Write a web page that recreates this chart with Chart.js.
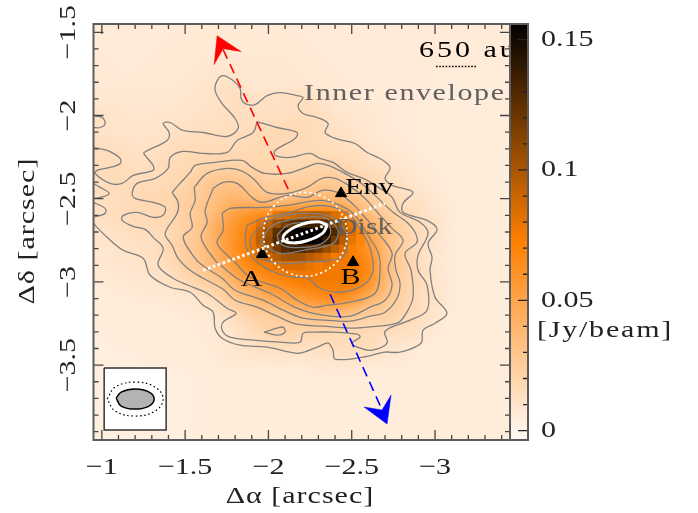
<!DOCTYPE html>
<html><head><meta charset="utf-8">
<style>html,body{margin:0;padding:0;background:#fff}canvas{display:block}</style>
<script src="https://cdn.jsdelivr.net/npm/chart.js@4/dist/chart.umd.min.js"></script>
</head><body><canvas id="c" width="698" height="513"></canvas>
<script>
// ---- axes
const xMajor=[-1,-1.5,-2,-2.5,-3];
const xLabels=['\u22121','\u22121.5','\u22122','\u22122.5','\u22123'];
const yMajor=[-1.5,-2,-2.5,-3,-3.5];
const yLabels=['\u22121.5','\u22122','\u22122.5','\u22123','\u22123.5'];
const xMinor=[-1,-1.1,-1.2,-1.3,-1.4,-1.5,-1.6,-1.7,-1.8,-1.9,-2,-2.1,-2.2,-2.3,-2.4,-2.5,-2.6,-2.7,-2.8,-2.9,-3,-3.1,-3.2,-3.3,-3.4];
const yMinor=[-1.5,-1.6,-1.7,-1.8,-1.9,-2,-2.1,-2.2,-2.3,-2.4,-2.5,-2.6,-2.7,-2.8,-2.9,-3,-3.1,-3.2,-3.3,-3.4,-3.5,-3.6,-3.7,-3.8,-3.9];
const cMajor=[0,0.05,0.1,0.15];
const cLabels=['0','0.05','0.1','0.15'];
const cMinor=[0,0.01,0.02,0.03,0.04,0.05,0.06,0.07,0.08,0.09,0.1,0.11,0.12,0.13,0.14,0.15];
const cStops=[-0.0036,0,0.0725,0.156];
const cColors=[[255,248,242],[255,245,236],[255,128,0],[0,0,0]];
// ---- map, mJy/beam, rows dec -1.5..-3.9, cols ra -1.0..-3.4 step 0.1
const fluxRows=[
[6,6,6,6,6,7,7,7,7,7,7,7,6,6,6,6,6,6,6,6,6,6,6,6,6],
[6,6,6,6,7,7,7,7,7,7,7,7,7,6,6,6,6,6,6,6,6,6,6,6,6],
[7,6,6,7,7,7,8,8,8,8,8,8,7,7,6,6,6,6,6,6,6,6,6,6,6],
[7,7,7,7,7,8,9,11,11,8,8,8,8,7,7,6,6,6,6,6,6,5,5,5,5],
[8,8,8,8,8,9,10,12,14,12,12,13,14,11,8,7,6,6,6,6,5,5,5,5,5],
[12,10,9,9,10,10,11,12,14,13,13,13,14,14,10,9,8,7,6,6,5,5,5,5,5],
[11,10,10,10,12,13,14,14,14,15,17,18,17,14,13,10,8,7,6,6,5,5,5,5,5],
[14,13,11,12,14,16,16,16,17,17,18,16,15,15,14,13,11,8,7,6,5,5,5,5,5],
[15,15,13,14,16,17,20,21,21,20,18,17,18,20,20,17,14,12,9,7,6,5,5,5,5],
[14,16,15,15,17,20,25,29,30,27,23,23,24,26,26,23,19,15,12,8,7,5,5,5,5],
[13,14,17,18,19,23,28,34,40,36,32,33,36,39,38,32,25,19,14,12,8,6,5,5,5],
[13,15,16,17,18,23,29,40,54,62,68,70,74,76,74,50,36,26,18,14,10,6,5,5,5],
[11,12,14,15,17,22,30,48,60,74,92,110,140,140,105,70,50,34,23,16,12,6,5,5,5],
[9,10,12,13,18,24,32,46,62,76,92,110,115,108,90,72,60,36,23,14,9,6,5,5,5],
[8,9,10,12,15,22,30,40,56,70,76,82,82,80,76,76,66,38,24,16,9,6,5,5,5],
[6,7,8,9,12,16,22,28,42,52,62,68,74,76,76,76,62,38,22,16,10,6,5,5,5],
[5,6,6,7,7,8,11,18,28,36,44,50,56,62,64,58,42,30,21,15,11,6,5,5,5],
[5,5,5,5,6,6,7,10,16,21,25,28,32,34,34,28,23,22,18,14,10,6,5,5,5],
[5,5,5,5,5,6,6,8,10,16,20,21,20,20,18,17,17,14,14,11,7,5,5,5,5],
[4,5,5,5,5,5,6,7,10,11,13,14,13,13,14,15,15,10,9,6,5,5,5,5,5],
[4,4,4,5,5,5,5,6,7,7,7,7,7,8,8,8,7,6,6,5,5,5,5,5,5],
[4,4,4,4,4,4,5,5,5,5,5,5,5,5,5,5,5,5,5,5,5,5,5,5,5],
[4,4,4,4,4,4,5,5,5,5,5,5,5,5,5,5,5,5,5,5,5,5,5,5,5],
[4,4,4,4,4,4,5,5,5,5,5,5,5,5,5,5,5,5,5,5,5,5,5,5,5],
[4,4,4,4,4,4,5,5,5,5,5,5,5,5,5,5,5,5,5,5,5,5,5,5,5]];
// core cells, 0.05 arcsec pixels (null: no cell)
const coreRa=[-1.95,-2,-2.05,-2.1,-2.15,-2.2,-2.25,-2.3,-2.35,-2.4,-2.45,-2.5,-2.55];
const coreDec=[-2.6,-2.65,-2.7,-2.75,-2.8,-2.85,-2.9];
const coreRows=[
[null,null,80,84,88,92,96,96,92,84,78,null,null],
[82,92,104,116,124,130,136,136,128,112,94,80,null],
[92,104,126,144,154,156,156,156,152,130,104,84,72],
[94,108,130,148,156,156,156,154,140,118,96,80,70],
[88,100,116,128,134,134,126,118,106,94,84,74,null],
[80,88,96,102,104,102,96,90,84,76,null,null,null],
[null,76,80,84,84,84,80,76,null,null,null,null,null]];
// ---- contours [ra,dec]
const contour1=[[-.948,-2.192],[-1.032,-2.21],[-1.11,-2.258],[-1.11,-2.288],[-1.05,-2.312],[-.972,-2.33],[-.96,-2.348],[-1.05,-2.408],[-1.122,-2.408],[-1.188,-2.36],[-1.308,-2.33],[-1.308,-2.3],[-1.26,-2.24],[-1.254,-2.222],[-1.392,-2.15],[-1.404,-2.102],[-1.368,-2.048],[-1.41,-2.042],[-1.488,-2.09],[-1.608,-2.102],[-1.752,-2.126],[-1.818,-2.078],[-1.8,-2.018],[-1.722,-1.928],[-1.68,-1.85],[-1.692,-1.79],[-1.728,-1.76],[-1.788,-1.79],[-1.83,-1.838],[-1.836,-1.898],[-1.86,-1.928],[-1.92,-1.934],[-1.992,-1.88],[-2.07,-1.862],[-2.172,-1.88],[-2.208,-1.892],[-2.178,-1.94],[-2.208,-1.988],[-2.292,-2.012],[-2.358,-2.048],[-2.34,-2.102],[-2.388,-2.132],[-2.448,-2.15],[-2.52,-2.168],[-2.592,-2.222],[-2.67,-2.258],[-2.73,-2.312],[-2.7,-2.378],[-2.742,-2.42],[-2.808,-2.438],[-2.868,-2.462],[-2.808,-2.528],[-2.808,-2.582],[-2.952,-2.63],[-3.012,-2.684],[-2.958,-2.768],[-2.982,-2.852],[-2.97,-2.93],[-3,-3.092],[-3.072,-3.188],[-3,-3.248],[-2.928,-3.29],[-2.916,-3.368],[-2.79,-3.422],[-2.7,-3.422],[-2.568,-3.452],[-2.4,-3.464],[-2.388,-3.41],[-2.358,-3.368],[-2.292,-3.392],[-2.19,-3.428],[-2.13,-3.422],[-1.992,-3.392],[-1.83,-3.38],[-1.722,-3.338],[-1.68,-3.278],[-1.668,-3.182],[-1.608,-3.14],[-1.53,-3.062],[-1.41,-3.032],[-1.29,-2.96],[-1.248,-2.858],[-1.128,-2.81],[-1.032,-2.732],[-.96,-2.66],[-.948,-2.642]];
const contour2=[[-1.932,-2.036],[-2.052,-2.072],[-2.172,-2.102],[-2.16,-2.138],[-2.04,-2.21],[-2.04,-2.24],[-2.13,-2.252],[-2.25,-2.228],[-2.31,-2.258],[-2.388,-2.282],[-2.472,-2.342],[-2.568,-2.378],[-2.67,-2.438],[-2.742,-2.492],[-2.79,-2.582],[-2.91,-2.642],[-2.958,-2.708],[-2.898,-2.84],[-2.898,-2.93],[-2.952,-3.02],[-2.952,-3.17],[-2.85,-3.23],[-2.7,-3.296],[-2.712,-3.368],[-2.622,-3.41],[-2.55,-3.398],[-2.502,-3.368],[-2.55,-3.332],[-2.532,-3.314],[-2.388,-3.302],[-2.268,-3.302],[-2.208,-3.308],[-2.19,-3.362],[-2.07,-3.362],[-1.908,-3.35],[-1.77,-3.332],[-1.722,-3.29],[-1.728,-3.242],[-1.806,-3.188],[-1.752,-3.158],[-1.632,-3.068],[-1.518,-3.02],[-1.428,-2.978],[-1.338,-2.9],[-1.368,-2.798],[-1.308,-2.732],[-1.26,-2.684],[-1.188,-2.666],[-1.122,-2.63],[-1.128,-2.6],[-1.212,-2.582],[-1.308,-2.612],[-1.368,-2.6],[-1.38,-2.552],[-1.308,-2.522],[-1.2,-2.498],[-1.182,-2.468],[-1.212,-2.408],[-1.32,-2.378],[-1.398,-2.318],[-1.41,-2.252],[-1.488,-2.216],[-1.608,-2.228],[-1.752,-2.222],[-1.812,-2.15],[-1.908,-2.102],[-1.932,-2.036]];
const contour3=[[-1.422,-2.462],[-1.458,-2.42],[-1.53,-2.342],[-1.56,-2.3],[-1.68,-2.282],[-1.842,-2.27],[-1.902,-2.312],[-1.98,-2.348],[-2.112,-2.348],[-2.208,-2.318],[-2.292,-2.288],[-2.358,-2.3],[-2.448,-2.342],[-2.55,-2.402],[-2.64,-2.48],[-2.748,-2.582],[-2.832,-2.642],[-2.88,-2.702],[-2.892,-2.762],[-2.82,-2.828],[-2.856,-2.93],[-2.868,-3.092],[-2.82,-3.2],[-2.772,-3.248],[-2.592,-3.272],[-2.49,-3.278],[-2.328,-3.266],[-2.172,-3.254],[-2.052,-3.206],[-1.932,-3.152],[-1.8,-3.11],[-1.728,-3.044],[-1.608,-2.978],[-1.53,-2.93],[-1.458,-2.858],[-1.422,-2.78],[-1.38,-2.708],[-1.452,-2.588],[-1.458,-2.522],[-1.422,-2.462]];
const contour4=[[-1.554,-2.432],[-1.632,-2.348],[-1.752,-2.318],[-1.83,-2.33],[-1.908,-2.378],[-1.992,-2.462],[-2.112,-2.468],[-2.232,-2.432],[-2.322,-2.378],[-2.4,-2.378],[-2.49,-2.426],[-2.58,-2.498],[-2.67,-2.6],[-2.742,-2.678],[-2.808,-2.75],[-2.76,-2.84],[-2.766,-2.93],[-2.79,-3.008],[-2.772,-3.098],[-2.7,-3.182],[-2.61,-3.206],[-2.49,-3.236],[-2.34,-3.23],[-2.208,-3.218],[-2.088,-3.17],[-1.968,-3.11],[-1.8,-3.05],[-1.722,-2.978],[-1.62,-2.912],[-1.56,-2.858],[-1.488,-2.732],[-1.542,-2.672],[-1.53,-2.588],[-1.56,-2.51],[-1.554,-2.432]];
const contour5=[[-1.668,-2.438],[-1.728,-2.402],[-1.812,-2.408],[-1.908,-2.498],[-1.968,-2.522],[-2.112,-2.48],[-2.232,-2.492],[-2.322,-2.45],[-2.412,-2.462],[-2.502,-2.528],[-2.58,-2.612],[-2.67,-2.72],[-2.742,-2.828],[-2.718,-2.918],[-2.742,-3.02],[-2.7,-3.11],[-2.61,-3.152],[-2.49,-3.206],[-2.328,-3.2],[-2.172,-3.158],[-2.01,-3.068],[-1.83,-2.99],[-1.728,-2.912],[-1.68,-2.87],[-1.596,-2.732],[-1.632,-2.642],[-1.62,-2.57],[-1.668,-2.438]];
const contour6=[[-1.722,-2.588],[-1.77,-2.558],[-1.968,-2.552],[-2.112,-2.54],[-2.31,-2.51],[-2.43,-2.54],[-2.52,-2.6],[-2.598,-2.72],[-2.658,-2.822],[-2.67,-2.93],[-2.64,-3.068],[-2.49,-3.122],[-2.352,-3.14],[-2.268,-3.152],[-2.172,-3.11],[-2.07,-3.038],[-1.89,-2.972],[-1.8,-2.882],[-1.692,-2.768],[-1.728,-2.69],[-1.722,-2.588]];
const contour7=[[-1.872,-2.66],[-1.962,-2.618],[-2.13,-2.582],[-2.25,-2.546],[-2.37,-2.546],[-2.49,-2.6],[-2.562,-2.702],[-2.61,-2.798],[-2.628,-2.93],[-2.568,-3.02],[-2.43,-3.062],[-2.31,-3.038],[-2.238,-2.978],[-2.16,-2.972],[-2.052,-2.948],[-1.932,-2.882],[-1.872,-2.81],[-1.86,-2.732],[-1.872,-2.66]];
const contour8=[[-1.974,-2.642],[-2.052,-2.612],[-2.208,-2.588],[-2.37,-2.606],[-2.46,-2.69],[-2.472,-2.798],[-2.43,-2.858],[-2.208,-2.882],[-2.07,-2.888],[-1.938,-2.852],[-1.89,-2.75],[-1.974,-2.642]];
const contour9=[[-1.95,-2.768],[-2.01,-2.672],[-2.112,-2.63],[-2.328,-2.612],[-2.418,-2.69],[-2.388,-2.768],[-2.208,-2.81],[-2.07,-2.828],[-1.95,-2.768]];
const contour10=[[-2.052,-2.72],[-2.112,-2.66],[-2.208,-2.642],[-2.352,-2.648],[-2.37,-2.72],[-2.292,-2.78],[-2.13,-2.792],[-2.07,-2.768],[-2.052,-2.72]];
const islandSouth=[[-1.974,-3.302],[-2.052,-3.278],[-2.088,-3.272],[-2.1,-3.302],[-2.052,-3.32],[-1.974,-3.302]];
const edgeA=[[-.948,-2],[-1.002,-2.012],[-1.02,-2.048],[-.99,-2.072],[-.948,-2.072]];
const edgeB=[[-.948,-2.408],[-.99,-2.432],[-1.044,-2.468],[-.99,-2.492],[-.948,-2.498]];
const edgeC=[[-.948,-2.522],[-1.02,-2.558],[-1.02,-2.588],[-.948,-2.612]];
// ---- overlays
const redAxis=[[-1.728,-1.604],[-2.136,-2.48]];
const redHead=[[-1.692,-1.52],[-1.836,-1.616],[-1.728,-1.598],[-1.674,-1.694],[-1.692,-1.52]];
const blueAxis=[[-2.37,-3.074],[-2.688,-3.782]];
const blueHead=[[-2.736,-3.68],[-2.712,-3.854],[-2.574,-3.752],[-2.682,-3.77],[-2.736,-3.68]];
const diskAxis=[[-1.608,-2.93],[-2.7,-2.528]];
const innerRing=[[-1.968,-2.714],[-1.987,-2.618],[-2.042,-2.536],[-2.124,-2.482],[-2.22,-2.462],[-2.316,-2.482],[-2.398,-2.536],[-2.453,-2.618],[-2.472,-2.714],[-2.453,-2.81],[-2.398,-2.892],[-2.316,-2.946],[-2.22,-2.966],[-2.124,-2.946],[-2.042,-2.892],[-1.987,-2.81],[-1.968,-2.714]];
const diskEllipse=[[-2.352,-2.662],[-2.324,-2.708],[-2.235,-2.751],[-2.137,-2.765],[-2.088,-2.742],[-2.116,-2.696],[-2.205,-2.653],[-2.303,-2.639],[-2.352,-2.662]];
const scaleBar=[[-3.006,-1.706],[-3.252,-1.706]];
const beamBox=[[-1.014,-3.518],[-1.386,-3.518],[-1.386,-3.89],[-1.014,-3.89],[-1.014,-3.518]];
const beamFill=[[-1.086,-3.698],[-1.116,-3.662],[-1.2,-3.644],[-1.284,-3.662],[-1.314,-3.704],[-1.284,-3.746],[-1.2,-3.764],[-1.116,-3.746],[-1.086,-3.698]];
const beamOuter=[[-1.032,-3.704],[-1.08,-3.632],[-1.2,-3.602],[-1.32,-3.632],[-1.368,-3.704],[-1.32,-3.776],[-1.2,-3.806],[-1.08,-3.776],[-1.032,-3.704]];
const markers=[[-1.962,-2.834],[-2.436,-2.468],[-2.508,-2.882]];
const notes=[
 ['A',-1.902,-2.984,'center','#000',1],
 ['B',-2.496,-2.972,'center','#000',1],
 ['Env',-2.46,-2.432,'left','#000',0],
 ['Disk',-2.405,-2.672,'left','#5f5f5f',0],
 ['Inner envelope',-2.214,-1.868,'left','#5f5f5f',1.6],
 ['650 au',-2.904,-1.61,'left','#000',3]];
const colorbarLabel='[Jy/beam]';
const xTitle='\u0394\u03b1 [arcsec]';
const yTitle='\u0394\u03b4 [arcsec]';

const FONT='"Liberation Serif"';
const pts=a=>a.map(p=>({x:p[0],y:p[1]}));
const line=(a,o)=>Object.assign({data:pts(a),showLine:true,pointRadius:0,borderColor:'#808080',borderWidth:1.3,tension:0,fill:false,order:5},o||{});
const contour=a=>line(a,{tension:0.35});
const datasets=[
 contour(contour1),contour(contour2),contour(contour3),contour(contour4),contour(contour5),contour(contour6),contour(contour7),contour(contour8),contour(contour9),contour(contour10),contour(islandSouth),contour(edgeA),contour(edgeB),contour(edgeC),
 line(redAxis,{borderColor:'#ff0000',borderWidth:1.6,borderDash:[10,6],order:4}),
 line(redHead,{borderColor:'#ff0000',borderWidth:0.5,backgroundColor:'#ff0000',fill:'shape',order:4}),
 line(blueAxis,{borderColor:'#0000ff',borderWidth:1.6,borderDash:[10,6],order:4}),
 line(blueHead,{borderColor:'#0000ff',borderWidth:0.5,backgroundColor:'#0000ff',fill:'shape',order:4}),
 line(innerRing,{borderColor:'#fff',borderWidth:1.8,borderDash:[2,3],tension:0.4,order:3}),
 line(diskAxis,{borderColor:'#fff',borderWidth:3,borderDash:[2.6,2.6],order:1}),
 line(diskEllipse,{borderColor:'#fff',borderWidth:3,tension:0.45,order:2}),
 line(scaleBar,{borderColor:'#000',borderWidth:1.5,borderDash:[1.6,1.6],order:2}),
 line(beamBox,{borderColor:'#333',borderWidth:1.5,backgroundColor:'#fff',fill:'shape',order:3}),
 line(beamFill,{borderColor:'#000',borderWidth:1.5,backgroundColor:'#b3b3b3',fill:'shape',tension:0.4,order:2}),
 line(beamOuter,{borderColor:'#000',borderWidth:1.2,borderDash:[1.6,2.6],tension:0.4,order:2}),
 {data:pts(markers),pointStyle:'triangle',pointRadius:6.5,pointBackgroundColor:'#000',pointBorderColor:'#000',showLine:false,order:1}
];
function colorOf(v){
 for(let i=0;i<cStops.length-1;i++){ if(v<=cStops[i+1]){
  const t=Math.max(0,(v-cStops[i])/(cStops[i+1]-cStops[i]));
  return cColors[i].map((c,k)=>Math.round(c+(cColors[i+1][k]-c)*t));}}
 return cColors[cColors.length-1];
}
const STRETCH=1.25;
function wideText(c,text,x,y,align,spacing,rot){
 c.save();c.translate(x,y);if(rot)c.rotate(rot);c.scale(STRETCH,1);
 c.letterSpacing=(spacing/STRETCH)+'px';c.textAlign=align;c.textBaseline='middle';c.fillText(text,0,0);c.restore();
}
const heat={id:'heat',beforeDatasetsDraw(ch){
 const c=ch.ctx,X=ch.scales.x,Y=ch.scales.y;
 const rows=fluxRows.length,cols=fluxRows[0].length;
 const off=document.createElement('canvas');off.width=cols;off.height=rows;
 const g=off.getContext('2d'),im=g.createImageData(cols,rows);
 fluxRows.forEach((r,j)=>r.forEach((v,i)=>{const k=(j*cols+i)*4,col=colorOf(v/1000);im.data[k]=col[0];im.data[k+1]=col[1];im.data[k+2]=col[2];im.data[k+3]=255;}));
 g.putImageData(im,0,0);
 c.save();c.imageSmoothingEnabled=true;c.imageSmoothingQuality='high';
 c.drawImage(off,X.getPixelForValue(-0.95),Y.getPixelForValue(-1.45),X.getPixelForValue(-3.45)-X.getPixelForValue(-0.95),Y.getPixelForValue(-3.95)-Y.getPixelForValue(-1.45));
 coreRows.forEach((r,j)=>r.forEach((v,i)=>{
  if(v===null)return;
  const x0=X.getPixelForValue(coreRa[i]+0.025),x1=X.getPixelForValue(coreRa[i]-0.025),y0=Y.getPixelForValue(coreDec[j]+0.025),y1=Y.getPixelForValue(coreDec[j]-0.025);
  c.fillStyle='rgb('+colorOf(v/1000).join(',')+')';c.fillRect(x0,y0,x1-x0+.5,y1-y0+.5);}));
 c.restore();
}};
const frame={id:'frame',afterDatasetsDraw(ch){
 const c=ch.ctx,X=ch.scales.x,Y=ch.scales.y,C=ch.scales.c,a=ch.chartArea;
 c.save();
 c.font='24px '+FONT;
 notes.forEach(n=>{c.fillStyle=n[4];wideText(c,n[0],X.getPixelForValue(n[1]),Y.getPixelForValue(n[2]),n[3],n[5]);});
 // colour bar
 const barL=a.right,barR=a.right+18;
 const g=c.createLinearGradient(0,C.getPixelForValue(cStops[0]),0,C.getPixelForValue(cStops[3]));
 cStops.forEach((s,i)=>g.addColorStop((s-cStops[0])/(cStops[3]-cStops[0]),'rgb('+cColors[i].join(',')+')'));
 c.fillStyle=g;c.fillRect(barL,a.top,barR-barL,a.bottom-a.top);
 // ticks
 c.strokeStyle='#444';c.lineWidth=1.3;c.beginPath();
 const tk=(x0,y0,x1,y1)=>{c.moveTo(x0,y0);c.lineTo(x1,y1);};
 xMinor.forEach(v=>{const p=X.getPixelForValue(v),l=xMajor.includes(v)?10:5;tk(p,a.top,p,a.top+l);tk(p,a.bottom,p,a.bottom-l);});
 yMinor.forEach(v=>{const p=Y.getPixelForValue(v),l=yMajor.includes(v)?10:5;tk(a.left,p,a.left+l,p);tk(a.right,p,a.right-l,p);});
 c.stroke();
 c.strokeStyle='#222';c.beginPath();
 cMinor.forEach(v=>{const p=C.getPixelForValue(v),l=cMajor.includes(v)?10:5;tk(barR,p,barR-l,p);});
 c.stroke();
 c.strokeStyle='#5c5c5c';c.lineWidth=2;
 c.strokeRect(a.left,a.top,a.right-a.left,a.bottom-a.top);
 c.strokeRect(barL,a.top,barR-barL,a.bottom-a.top);
 // axis text
 c.fillStyle='#222';c.font='24px '+FONT;
 xMajor.forEach((v,i)=>wideText(c,xLabels[i],X.getPixelForValue(v),468,'center',0));
 yMajor.forEach((v,i)=>wideText(c,yLabels[i],69,Y.getPixelForValue(v),'center',0,-Math.PI/2));
 cMajor.forEach((v,i)=>wideText(c,cLabels[i],541,C.getPixelForValue(v),'left',0));
 wideText(c,colorbarLabel,605,331,'center',1.8);
 wideText(c,xTitle,300,497,'center',1);
 wideText(c,yTitle,28,231,'center',1,-Math.PI/2);
 c.restore();
}};
const noPad=s=>{s.paddingTop=0;s.paddingBottom=0;s.paddingLeft=0;s.paddingRight=0;};
new Chart(document.getElementById('c'),{type:'scatter',data:{datasets},plugins:[heat,frame],options:{
 responsive:false,animation:false,devicePixelRatio:1,
 layout:{padding:{top:24,left:0,right:0,bottom:0}},
 plugins:{legend:{display:false},tooltip:{enabled:false},title:{display:false}},
 scales:{
  x:{type:'linear',reverse:true,min:-3.45,max:-0.95,position:'bottom',grid:{display:false},border:{display:false},
   afterBuildTicks(s){s.ticks=xMajor.map(v=>({value:v}));},afterFit(s){s.height=73;noPad(s);},
   ticks:{display:false}},
  y:{type:'linear',min:-3.95,max:-1.45,position:'left',grid:{display:false},border:{display:false},
   afterBuildTicks(s){s.ticks=yMajor.map(v=>({value:v}));},afterFit(s){s.width=93.5;noPad(s);},
   ticks:{display:false}},
  c:{type:'linear',axis:'y',min:-0.0036,max:0.156,position:'right',grid:{display:false,drawTicks:false},border:{display:false},
   afterBuildTicks(s){s.ticks=cMajor.map(v=>({value:v}));},afterFit(s){s.width=188;noPad(s);},
   ticks:{display:false}}
 }}});
</script></body></html>
